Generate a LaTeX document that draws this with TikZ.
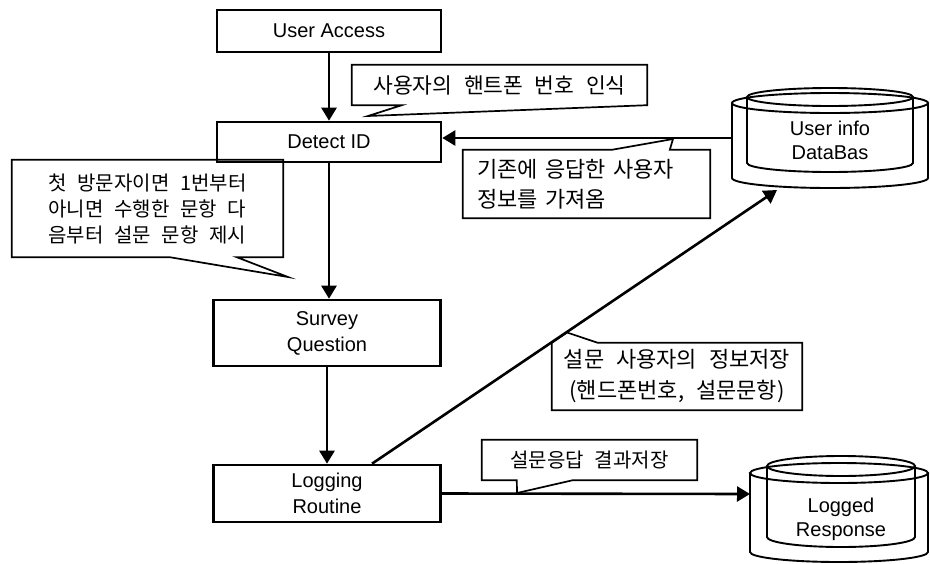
\documentclass[tikz,border=0pt]{standalone}
\usepackage{fontspec}
\setmainfont{Liberation Sans}
\newfontfamily\kr[WordSpace=2.4]{Noto Sans CJK KR}
\usepackage{tikz}
\usetikzlibrary{arrows.meta,calc}

\tikzset{
  box/.style={draw, line width=2.6pt, inner sep=0pt, align=center, font=\fontsize{20}{26}\selectfont},
  dbtext/.style={inner sep=0pt, align=center, font=\fontsize{20}{24}\selectfont},
  note/.style={inner sep=0pt, align=left},
  bubble/.style={line width=1.7pt, line join=miter},
  wire/.style={line width=2.6pt},
  flow/.style={wire, -{Triangle[width=15pt,length=13pt]}},
  drumline/.style={line width=1.9pt}
}

% drum: centre x, top y, bottom y, half width, y radius
\newcommand{\dbdrum}[5]{%
  \draw[drumline] (#1,#2) ellipse [x radius=#4, y radius=#5];
  \draw[drumline] (#1-#4,#2) -- (#1-#4,#3)
    arc [start angle=180, end angle=0, x radius=#4, y radius=#5] -- (#1+#4,#2);
}

\begin{document}
\begin{tikzpicture}[x=1pt, y=-1pt]
\useasboundingbox (0,0) rectangle (930,563);

%% boxes
\node[box, minimum width=224pt, minimum height=42pt] (access) at (329,31) {User Access};
\node[box, minimum width=224pt, minimum height=40pt] (detect) at (329,142) {Detect ID};
\node[box, minimum width=227pt, minimum height=66pt] (survey) at (327,333) {Survey\\Question};
\node[box, minimum width=227pt, minimum height=57pt] (logging) at (327,493.5) {Logging\\Routine};

%% drums
\dbdrum{830}{103}{178}{98}{10}
\dbdrum{830}{97}{163}{83}{9}
\node[dbtext] (userdb) at (830,140) {User info\\DataBas};
\coordinate (userdb-w) at (732,138);
\coordinate (userdb-s) at (777,190);

\dbdrum{839}{473}{552}{89}{10}
\dbdrum{841}{466}{537}{74}{10}
\node[dbtext] (logdb) at (841,519) {Logged\\Response};
\coordinate (logdb-w) at (750,494);

%%% arrows
\draw[flow] (access) -- (detect);
\draw[flow] (detect.south) -- (detect.south |- survey.north);
\draw[flow] (survey) -- (logging);
\draw[flow] (userdb-w) -- (userdb-w -| detect.east);
\draw[flow] ([xshift=45pt]logging.north) -- (userdb-s);
\draw[flow] (logging.east) -- (logdb-w);

%% notes
\node[note, font=\kr\fontsize{21.5}{30}\selectfont, minimum width=295pt, minimum height=40pt]
  (phonenote) at (499.5,85) {사용자의 핸트폰 번호 인식};
\coordinate (phonenote-tip) at (368,116);
\draw[bubble] (phonenote.north west) -- (phonenote.north east) -- (phonenote.south east)
  -- (phonenote-tip) -- ([xshift=50pt]phonenote.south west) -- (phonenote.south west) -- cycle;

\node[note, font=\kr\fontsize{20}{26}\selectfont, minimum width=271pt, minimum height=97pt]
  (startnote) at (147.5,208.5) {첫 방문자이면 1번부터\\아니면 수행한 문항 다\\음부터 설문 문항 제시};
\coordinate (startnote-tip) at (288,277);
\draw[bubble] (startnote.north west) -- (startnote.north east) -- (startnote.south east)
  -- ([xshift=225pt]startnote.south west) -- (startnote-tip)
  -- ([xshift=158pt]startnote.south west) -- (startnote.south west) -- cycle;

\node[note, font=\kr\fontsize{22}{30}\selectfont, text width=219pt, inner xsep=14pt, minimum height=68pt]
  (fetchnote) at (586.5,184) {기존에 응답한 사용자\\정보를 가져옴};
\coordinate (fetchnote-tip) at (673,139);
\draw[bubble] (fetchnote.north west) -- ([xshift=149pt]fetchnote.north west) -- (fetchnote-tip)
  -- ([xshift=207pt]fetchnote.north west) -- (fetchnote.north east)
  -- (fetchnote.south east) -- (fetchnote.south west) -- cycle;

\node[note, align=center, font=\kr\fontsize{22}{31}\selectfont, minimum width=250pt, minimum height=67pt]
  (savenote) at (677,376.5) {설문 사용자의 정보저장\\(핸드폰번호, 설문문항)};
\coordinate (savenote-tip) at (567,332.5);
\draw[bubble] (savenote.south west) -- (savenote.north west) -- (savenote-tip)
  -- ([xshift=46pt]savenote.north west) -- (savenote.north east)
  -- (savenote.south east) -- cycle;

\node[note, font=\kr\fontsize{20}{26}\selectfont, minimum width=215pt, minimum height=40pt]
  (lognote) at (589.5,460) {설문응답 결과저장};
\coordinate (lognote-tip) at (517,493);
\draw[bubble] (lognote.north west) -- (lognote.north east) -- (lognote.south east)
  -- ([xshift=91pt]lognote.south west) -- (lognote-tip)
  -- ([xshift=35pt]lognote.south west) -- (lognote.south west) -- cycle;
\end{tikzpicture}
\end{document}
